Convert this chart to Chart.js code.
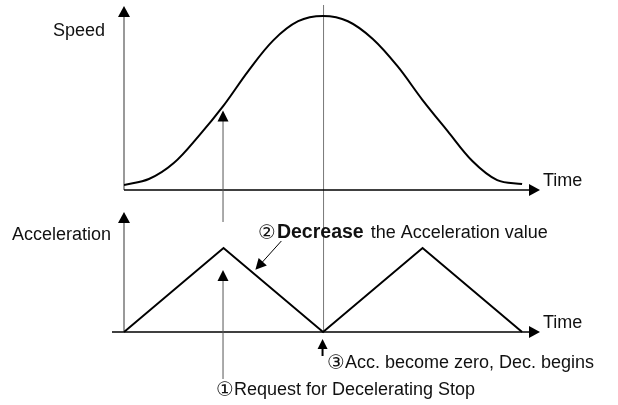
<!DOCTYPE html>
<html>
<head>
<meta charset="utf-8">
<script src="https://cdn.jsdelivr.net/npm/chart.js@4.4.0/dist/chart.umd.min.js"></script>
<style>
  html, body { margin: 0; padding: 0; background: #fff; }
  #wrap { width: 618px; height: 405px; }
</style>
</head>
<body>
<div id="wrap"><canvas id="motionChart" width="618" height="405"></canvas></div>
<script>
// time in units of one acceleration ramp, speed in % of the peak
const speedTimes = [0, 0.25, 0.5, 0.75, 1, 1.25, 1.5, 1.75, 2, 2.25, 2.5, 2.75, 3, 3.25, 3.5, 3.75, 4];
const speedValues = [2.9, 6.3, 15.5, 31, 48.5, 68.5, 86, 97, 100, 97, 86.8, 71, 51.7, 34, 16.7, 5.7, 3.4];
const accTimes = [0, 1, 2, 3, 4];
const accValues = [0, 1, 0, 1, 0];

const requestTime = 1;   // ① request for decelerating stop
const zeroAccTime = 2;   // ③ acceleration becomes zero
const axisLabels = { speed: "Speed", acc: "Acceleration", time: "Time" };
const note1 = ["\u2460", "Request for Decelerating Stop"];
const note2 = ["\u2461", "Decrease", " the Acceleration value"];
const note3 = ["\u2462", "Acc. become zero, Dec. begins"];

const FONT = '"Liberation Sans", Arial, "DejaVu Sans", sans-serif';

function arrow(ctx, x1, y1, x2, y2, color, width, len, half) {
  const a = Math.atan2(y2 - y1, x2 - x1);
  const dx = Math.cos(a), dy = Math.sin(a);
  ctx.strokeStyle = color;
  ctx.lineWidth = width;
  ctx.beginPath();
  ctx.moveTo(x1, y1);
  ctx.lineTo(x2 - dx * len * 0.8, y2 - dy * len * 0.8);
  ctx.stroke();
  ctx.fillStyle = "#000";
  ctx.beginPath();
  ctx.moveTo(x2, y2);
  ctx.lineTo(x2 - dx * len - dy * half, y2 - dy * len + dx * half);
  ctx.lineTo(x2 - dx * len + dy * half, y2 - dy * len - dx * half);
  ctx.closePath();
  ctx.fill();
}

// circled number (a bit larger), then the text; returns the x after the number
function mark(ctx, num, x, y) {
  ctx.font = "20px " + FONT;
  ctx.fillText(num, x, y + 1);
  return x + ctx.measureText(num).width;
}

function note(ctx, parts, x, y) {
  const nx = mark(ctx, parts[0], x, y);
  ctx.font = "18px " + FONT;
  ctx.fillText(parts[1], nx, y);
}

const framePlugin = {
  id: "frame",
  beforeDatasetsDraw(chart) {
    const ctx = chart.ctx;
    const x = chart.scales.x, yv = chart.scales.yv, ya = chart.scales.ya;
    const x0 = x.getPixelForValue(0);
    const xTip = x.getPixelForValue(4.18);
    const xMid = x.getPixelForValue(zeroAccTime) + 0.5;
    const baseV = yv.getPixelForValue(0);
    const baseA = ya.getPixelForValue(0);
    ctx.save();
    // center line through both panels
    ctx.strokeStyle = "#777";
    ctx.lineWidth = 1;
    ctx.beginPath();
    ctx.moveTo(xMid, yv.getPixelForValue(100) - 11);
    ctx.lineTo(xMid, baseA);
    ctx.stroke();
    // speed panel axes
    arrow(ctx, x0, baseV, x0, yv.getPixelForValue(100) - 10, "#777", 1.5, 11, 6);
    arrow(ctx, x0, baseV, xTip, baseV, "#000", 1.5, 11, 6);
    // acceleration panel axes
    arrow(ctx, x0, baseA, x0, ya.getPixelForValue(1) - 36, "#777", 1.5, 11, 6);
    arrow(ctx, x0 - 12, baseA, xTip, baseA, "#000", 1.5, 11, 6);
    ctx.restore();
  },
  afterDraw(chart) {
    const ctx = chart.ctx;
    const x = chart.scales.x, yv = chart.scales.yv, ya = chart.scales.ya;
    const baseV = yv.getPixelForValue(0);
    const baseA = ya.getPixelForValue(0);
    const peakA = ya.getPixelForValue(1);
    const xReq = x.getPixelForValue(requestTime) - 0.5;
    const xZero = x.getPixelForValue(zeroAccTime) - 0.5;
    ctx.save();
    // ① arrows
    arrow(ctx, xReq, peakA - 26, xReq, yv.getPixelForValue(speedValues[4]) + 5, "#555", 1, 11, 5.5);
    arrow(ctx, xReq, baseA + 47, xReq, peakA + 22, "#555", 1, 11, 5.5);
    // ② arrow onto the falling ramp
    const t2 = 1.32;
    arrow(ctx, x.getPixelForValue(t2) + 26, peakA - 7, x.getPixelForValue(t2), ya.getPixelForValue(2 - t2) - 5, "#000", 1, 11, 5.5);
    // ③ arrow
    arrow(ctx, xZero, baseA + 24, xZero, baseA + 7, "#000", 2, 10, 5);

    ctx.fillStyle = "#111";
    ctx.textBaseline = "alphabetic";
    ctx.textAlign = "left";
    ctx.font = "18px " + FONT;
    ctx.fillText(axisLabels.speed, 53, 36);
    ctx.fillText(axisLabels.time, 543, baseV - 4);
    ctx.fillText(axisLabels.acc, 12, 240);
    ctx.fillText(axisLabels.time, 543, baseA - 4);
    note(ctx, note3, 327, baseA + 36);
    note(ctx, note1, 216, baseA + 63);
    // ② label with bold word
    const ty = 238;
    let tx = mark(ctx, note2[0], 258, ty) + 1;
    ctx.font = "bold 19.5px " + FONT;
    ctx.fillText(note2[1], tx, ty);
    tx += ctx.measureText(note2[1]).width + 2;
    ctx.font = "18px " + FONT;
    ctx.fillText(note2[2], tx, ty);
    ctx.restore();
  }
};

new Chart(document.getElementById("motionChart").getContext("2d"), {
  type: "line",
  data: {
    datasets: [
      {
        label: "Speed",
        data: speedTimes.map((t, i) => ({ x: t, y: speedValues[i] })),
        yAxisID: "yv",
        borderColor: "#000",
        borderWidth: 2,
        pointRadius: 0,
        fill: false,
        tension: 0.35
      },
      {
        label: "Acceleration",
        data: accTimes.map((t, i) => ({ x: t, y: accValues[i] })),
        yAxisID: "ya",
        borderColor: "#000",
        borderWidth: 2,
        pointRadius: 0,
        fill: false,
        tension: 0
      }
    ]
  },
  options: {
    responsive: false,
    animation: false,
    devicePixelRatio: 1,
    layout: { padding: { left: 124, right: 76, top: 0, bottom: 0 } },
    plugins: { legend: { display: false }, tooltip: { enabled: false } },
    scales: {
      x: { type: "linear", min: 0, max: 4.2, display: false },
      yv: { type: "linear", min: -123.563, max: 109.195, display: false },
      ya: { type: "linear", min: -0.869, max: 3.952, display: false }
    }
  },
  plugins: [framePlugin]
});
</script>
</body>
</html>
